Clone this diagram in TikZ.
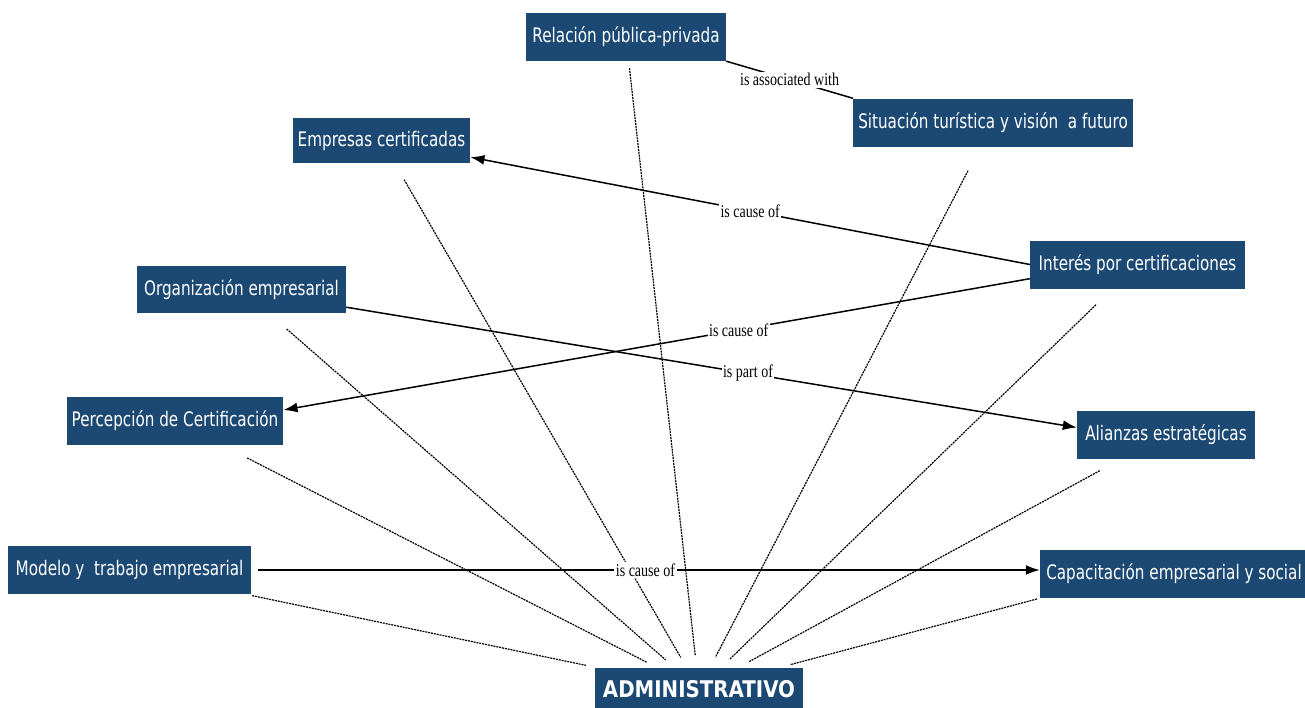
\documentclass[tikz,border=0pt]{standalone}
\usepackage{fontspec}
\usetikzlibrary{arrows.meta}
\newfontfamily\boxfont[FakeStretch=0.76]{DejaVu Sans}
\newfontfamily\headfont[FakeStretch=0.86]{DejaVu Sans}
\newfontfamily\tagfont[FakeStretch=0.78]{Liberation Serif}
\definecolor{boxblue}{RGB}{27,73,115}

\begin{document}
\begin{tikzpicture}[x=1pt,y=-1pt,
    box/.style={fill=boxblue,text=white,inner xsep=5,inner ysep=0,
      minimum height=48,font=\boxfont\fontsize{20}{24}\selectfont},
    tag/.style={fill=white,inner sep=1.5pt,font=\tagfont\fontsize{18}{20}\selectfont},
    tie/.style={line width=1.2pt,dash pattern=on 2pt off 0.9pt,shorten >=12pt},
    link/.style={line width=1.5pt,-{Latex[length=14pt,width=10pt]}}]

        \useasboundingbox (0,0) rectangle (1305,707);

        \node[box,minimum width=200] (rel) at (626,37) {Relación pública-privada};
        \node[box,minimum width=276] (sit) at (993,122.5) {Situación turística y visión\ \ a futuro};
        \node[box,minimum width=177,minimum height=45] (emp) at (381.5,140.5) {Empresas certificadas};
        \node[box,minimum width=215] (int) at (1137.5,264.5) {Interés por certificaciones};
        \node[box,minimum width=209,minimum height=47] (org) at (241.5,289.5) {Organización empresarial};
        \node[box,minimum width=214] (per) at (175,421) {Percepción de Certificación};
        \node[box,minimum width=178] (ali) at (1166,434.5) {Alianzas estratégicas};
        \node[box,minimum width=243] (mod) at (129.5,570) {Modelo y\ \ trabajo empresarial};
        \node[box,minimum width=268] (cap) at (1174,574) {Capacitación empresarial y social};
        \node[box,minimum width=208,minimum height=42,
          font=\headfont\bfseries\fontsize{23}{26}\selectfont] (adm) at (699,689) {ADMINISTRATIVO};

        \foreach \n/\s in {mod/7,per/28,org/24,emp/19,rel/7,sit/27,int/23,ali/25}
          \draw[tie,shorten <=\s pt] (\n) -- (adm);
        \draw[tie,shorten <=3pt] (cap.south west) -- (adm);

        \draw[line width=1.5pt] (rel.south east) -- node[tag] {is associated with} (sit.north west);
        \draw[link] (int.west) -- node[tag] {is cause of} ([yshift=6pt]emp.south east);
        \draw[link] ([yshift=10pt]int.south west) -- node[tag,pos=0.39] {is cause of}
          ([yshift=11pt]per.east);
        \draw[link] ([yshift=6pt]org.south east) -- node[tag,pos=0.55] {is part of}
          ([yshift=7pt]ali.west);
        \draw[link,shorten <=7pt] (mod.east) -- node[tag] {is cause of} (mod.east -| cap.west);

\end{tikzpicture}
\end{document}
